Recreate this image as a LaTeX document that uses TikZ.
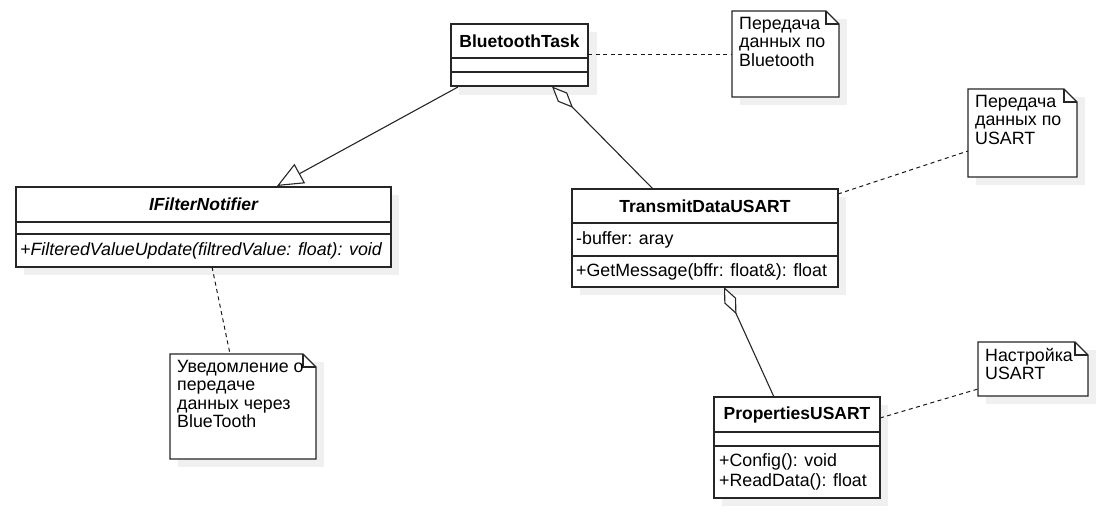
\documentclass[tikz,border=0pt]{standalone}
\usepackage{fontspec}
\setmainfont{Liberation Sans}
\usetikzlibrary{arrows.meta,calc}
\begin{document}
\begin{tikzpicture}[x=1pt,y=-1pt,
  every node/.style={font=\fontsize{17.8}{18.3}\selectfont, inner sep=0pt},
  boxline/.style={draw=black!85, line width=1.1pt},
  shadowfill/.style={fill=black!6, draw=none},
  area/.style={draw=none, inner sep=0pt, outer sep=0pt, anchor=north west},
  titletext/.style={font=\bfseries\fontsize{17.5}{18.3}\selectfont},
  membertext/.style={anchor=west, align=left},
  notetext/.style={anchor=north west, align=left},
  conn/.style={draw=black!85, line width=1.1pt},
  dashconn/.style={draw=black!90, line width=1pt, dash pattern=on 4pt off 3.5pt},
  inherit/.style={conn, -{Triangle[open, length=26pt, width=22pt, fill=white]}},
  aggr/.style={conn, {Diamond[open, length=30pt, width=13pt, fill=white]}-}
]
\useasboundingbox (0,0) rectangle (1112,526);

% BluetoothTask
\fill[shadowfill] (459,32) rectangle (597,95);
\node[area, minimum width=137pt, minimum height=62pt] (bt) at (451,24) {};
\draw[boxline, fill=white] (bt.north west) rectangle (bt.south east);
\draw[boxline] (451,58) -- (588,58) (451,72) -- (588,72);
\node[titletext] (btt) at (519.5,41.5) {BluetoothTask};

% IFilterNotifier
\fill[shadowfill] (24,195) rectangle (399,275);
\node[area, minimum width=375pt, minimum height=80pt] (ifn) at (16,187) {};
\draw[boxline, fill=white] (ifn.north west) rectangle (ifn.south east);
\draw[boxline] (16,222) -- (391,222) (16,234) -- (391,234);
\node[font=\bfseries\itshape\fontsize{17.5}{18.3}\selectfont] (ifnt) at (203.5,204.5) {IFilterNotifier};
\node[membertext, font=\itshape\fontsize{17.8}{18.3}\selectfont] (ifnm) at (20,250.5) {+FilteredValueUpdate(filtredValue: float): void};

% TransmitDataUSART
\fill[shadowfill] (580,197) rectangle (846,295);
\node[area, minimum width=266pt, minimum height=98pt] (tr) at (572,189) {};
\draw[boxline, fill=white] (tr.north west) rectangle (tr.south east);
\draw[boxline] (572,223) -- (838,223) (572,256) -- (838,256);
\node[titletext] (trt) at (705,206) {TransmitDataUSART};
\node[membertext] (tra) at (576,239.5) {-buffer: aray};
\node[membertext] (trm) at (576,271.5) {+GetMessage(bffr: float\&): float};

% PropertiesUSART
\fill[shadowfill] (722,405) rectangle (888,506);
\node[area, minimum width=166pt, minimum height=101pt] (pr) at (714,397) {};
\draw[boxline, fill=white] (pr.north west) rectangle (pr.south east);
\draw[boxline] (714,432) -- (880,432) (714,446) -- (880,446);
\node[titletext] (prt) at (797,414.5) {PropertiesUSART};
\node[membertext, align=left, font=\fontsize{17.8}{20}\selectfont] (prm) at (719,472) {+Config(): void\\+ReadData(): float};

% ---------- notes ----------
\newcommand\drawnote[1]{%
  \fill[shadowfill] ($(#1.north west)+(8,8)$) rectangle ($(#1.south east)+(8,8)$);
  \draw[boxline, fill=white, line join=miter] (#1.north west) -- ($(#1.north east)+(-13,0)$) -- ($(#1.north east)+(0,13)$) -- (#1.south east) -- (#1.south west) -- cycle;
  \draw[boxline] ($(#1.north east)+(-13,0)$) -- ($(#1.north east)+(-13,13)$) -- ($(#1.north east)+(0,13)$);
}

\node[area, minimum width=107pt, minimum height=86pt] (n1) at (732,11) {};
\drawnote{n1}
\node[notetext] (n1t) at (739,17) {Передача\\данных по\\Bluetooth};

\node[area, minimum width=109pt, minimum height=88pt] (n2) at (968,89) {};
\drawnote{n2}
\node[notetext] (n2t) at (975,95) {Передача\\данных по\\USART};

\node[area, minimum width=146pt, minimum height=105pt] (n3) at (170,354) {};
\drawnote{n3}
\node[notetext] (n3t) at (177,360) {Уведомление о\\передаче\\данных через\\BlueTooth};

\node[area, minimum width=110pt, minimum height=54pt] (n4) at (978,342) {};
\drawnote{n4}
\node[notetext] (n4t) at (985,348) {Настройка\\USART};

% ---------- connectors ----------
\coordinate (btI) at (458,87);
\coordinate (ifnI) at (277,186);
\draw[inherit] (btI) -- (ifnI);

\coordinate (btA) at (552,86.5);
\coordinate (trA) at (653,189);
\draw[aggr] (btA) -- (trA);

\coordinate (trB) at (724,287);
\coordinate (prB) at (774,397);
\draw[aggr] (trB) -- (prB);

\draw[dashconn] (bt.east |- 0,55) -- (n1.west |- 0,55);
\draw[dashconn] (838,194) -- (n2.west |- 0,151);
\draw[dashconn] (212,267) -- (230,354);
\draw[dashconn] (880,418) -- (n4.west |- 0,389);
\end{tikzpicture}
\end{document}
